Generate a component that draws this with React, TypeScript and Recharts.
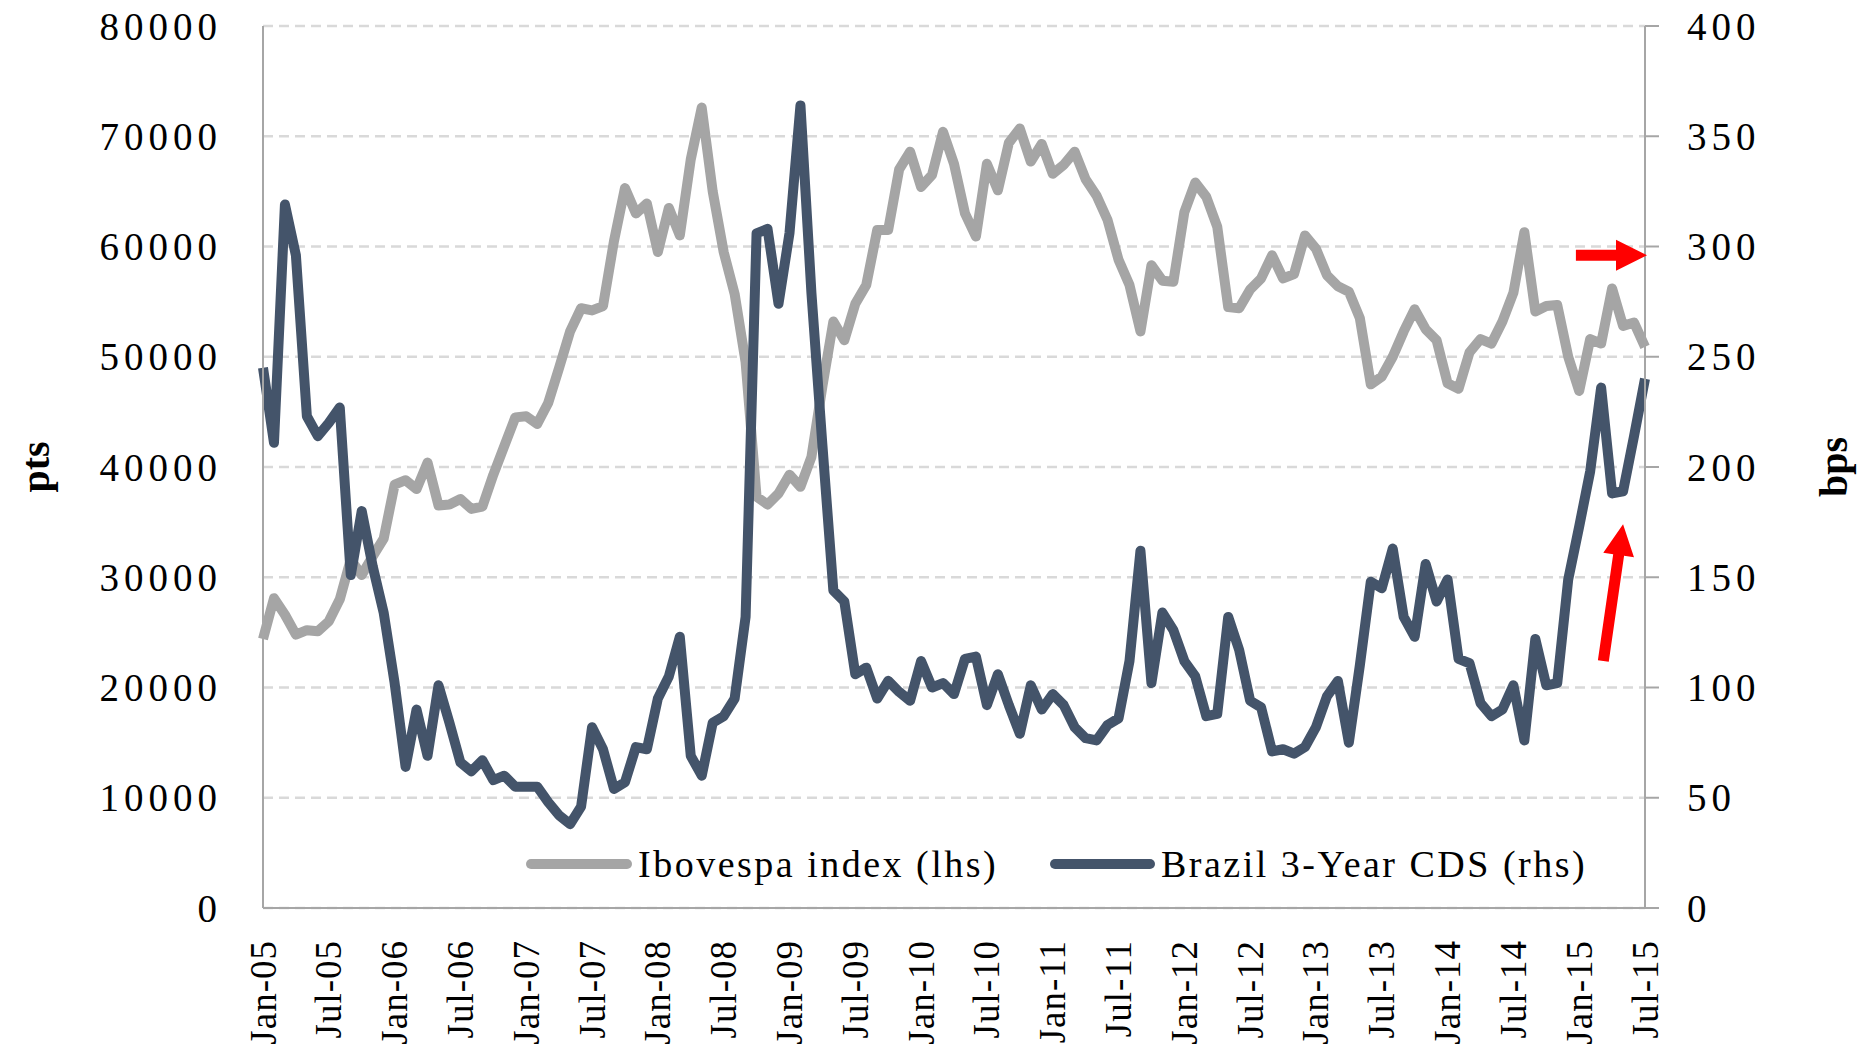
import React from "react"
import { CartesianGrid, Line, LineChart, XAxis, YAxis } from "recharts"

const FONT = '"Liberation Serif", "Times New Roman", serif'
const AXIS = "#a6a6a6"
const GREY = "#a5a5a5"
const SLATE = "#44546a"

// month labels Jan-05 .. Jul-15
const monthNames = ["Jan", "Feb", "Mar", "Apr", "May", "Jun", "Jul", "Aug", "Sep", "Oct", "Nov", "Dec"]
const months: string[] = []
for (let y = 5; y <= 15; y++) {
  for (let m = 0; m < 12; m++) {
    if (y === 15 && m > 6) break
    months.push(`${monthNames[m]}-${String(y).padStart(2, "0")}`)
  }
}

// Ibovespa index, pts (lhs)
const ibovespa = [
  24400, 28100, 26600, 24800, 25200, 25100, 26000, 28000, 31600, 30200, 31900, 33500,
  38400, 38800, 38000, 40400, 36500, 36600, 37100, 36200, 36400, 39300, 41900, 44500,
  44600, 43900, 45800, 49000, 52300, 54400, 54200, 54600, 60500, 65300, 63000, 63900,
  59500, 63500, 61000, 67900, 72600, 65000, 59500, 55700, 49500, 37300, 36600, 37600,
  39300, 38200, 40900, 47300, 53200, 51500, 54800, 56500, 61500, 61500, 67000, 68600,
  65400, 66500, 70400, 67500, 63000, 60900, 67500, 65100, 69400, 70700, 67700, 69300,
  66600, 67400, 68600, 66100, 64600, 62400, 58800, 56500, 52300, 58300, 56900, 56800,
  63100, 65800, 64500, 61800, 54500, 54400, 56100, 57100, 59200, 57100, 57500, 61000,
  59800, 57400, 56400, 55900, 53500, 47500, 48200, 50000, 52300, 54300, 52500, 51500,
  47600, 47100, 50400, 51600, 51200, 53200, 55800, 61300, 54100, 54600, 54700, 50000,
  46900, 51600, 51200, 56200, 52800, 53100, 50900,
]

// Brazil 3-Year CDS, bps (rhs)
const cds = [
  245, 211, 319, 296, 223, 214, 220, 227, 151, 180, 155, 134,
  102, 64, 90, 69, 101, 84, 66, 62, 67, 58, 60, 55,
  55, 55, 48, 42, 38, 46, 82, 72, 54, 57, 73, 72,
  95, 105, 123, 69, 60, 84, 87, 95, 132, 306, 308, 274,
  306, 364, 279, 210, 144, 139, 106, 109, 95, 103, 98, 94,
  112, 100, 102, 97, 113, 114, 92, 106, 92, 79, 101, 90,
  97, 92, 82, 77, 76, 83, 86, 112, 162, 102, 134, 126,
  112, 105, 87, 88, 132, 117, 94, 91, 71, 72, 70, 73,
  82, 96, 103, 75, 110, 148, 145, 163, 132, 123, 156, 139,
  149, 113, 111, 93, 87, 90, 101, 76, 122, 101, 102, 149,
  173, 198, 236, 188, 189, 214, 240,
]

const leftTicks = [0, 10000, 20000, 30000, 40000, 50000, 60000, 70000, 80000]
const rightTicks = [0, 50, 100, 150, 200, 250, 300, 350, 400]

const data = months.map((month, i) => ({ month, ibovespa: ibovespa[i], cds: cds[i] }))

const W = 1864
const H = 1058
const PLOT = { left: 263, right: 1645, top: 26, bottom: 908 }

const xAt = (i: number) => PLOT.left + (i * (PLOT.right - PLOT.left)) / (months.length - 1)
const yRight = (v: number) => PLOT.bottom - (v / 400) * (PLOT.bottom - PLOT.top)

const LeftTick = ({ x, y, payload }: any) => (
  <text x={x} y={y} textAnchor="end" dominantBaseline="central" fill="#000" fontSize={39} fontFamily={FONT} letterSpacing={5}>
    {payload.value}
  </text>
)

const RightTick = ({ x, y, payload }: any) => (
  <text x={x} y={y} textAnchor="start" dominantBaseline="central" fill="#000" fontSize={39} fontFamily={FONT} letterSpacing={5}>
    {payload.value}
  </text>
)

const MonthTick = ({ x, y, payload }: any) => (
  <text
    x={x}
    y={y}
    transform={`rotate(-90, ${x}, ${y})`}
    textAnchor="end"
    dominantBaseline="central"
    fill="#000"
    fontSize={37}
    fontFamily={FONT}
    letterSpacing={1}
  >
    {payload.value}
  </text>
)

const axisTitle = (value: string, dx: number) => (props: any) => {
  const vb = props.viewBox
  const cx = vb.x + dx
  const cy = vb.y + vb.height / 2
  return (
    <text
      x={cx}
      y={cy}
      transform={`rotate(-90, ${cx}, ${cy})`}
      textAnchor="middle"
      dominantBaseline="central"
      fill="#000"
      fontSize={40}
      fontWeight="bold"
      fontFamily={FONT}
    >
      {value}
    </text>
  )
}

// arrow polygon from tail to tip
const arrowPoints = (tx: number, ty: number, hx: number, hy: number, body = 5.5, headW = 15.5, headL = 31) => {
  const len = Math.hypot(hx - tx, hy - ty)
  const ux = (hx - tx) / len
  const uy = (hy - ty) / len
  const nx = -uy
  const ny = ux
  const bx = hx - ux * headL
  const by = hy - uy * headL
  const pts = [
    [tx + nx * body, ty + ny * body],
    [bx + nx * body, by + ny * body],
    [bx + nx * headW, by + ny * headW],
    [hx, hy],
    [bx - nx * headW, by - ny * headW],
    [bx - nx * body, by - ny * body],
    [tx - nx * body, ty - ny * body],
  ]
  return pts.map((p) => p.join(",")).join(" ")
}

export default function App() {
  const legendY = 864
  return (
    <div style={{ position: "absolute", left: 0, top: 0, width: W, height: H, background: "#fff" }}>
      <LineChart width={W} height={H} data={data} margin={{ top: PLOT.top, right: 0, bottom: 0, left: 0 }}>
        <CartesianGrid vertical={false} stroke="#d9d9d9" strokeWidth={2.5} strokeDasharray="10 6" />
        <XAxis
          dataKey="month"
          interval={5}
          height={H - PLOT.bottom}
          tickLine={false}
          tickSize={0}
          tickMargin={32}
          axisLine={{ stroke: AXIS, strokeWidth: 2 }}
          tick={<MonthTick />}
        />
        <YAxis
          width={PLOT.left}
          domain={[0, 80000]}
          ticks={leftTicks}
          interval={0}
          tickLine={false}
          tickSize={0}
          tickMargin={41}
          axisLine={{ stroke: AXIS, strokeWidth: 2 }}
          tick={<LeftTick />}
          label={{ content: axisTitle("pts", 35) }}
        />
        <YAxis
          yAxisId="right"
          orientation="right"
          width={W - PLOT.right}
          domain={[0, 400]}
          ticks={rightTicks}
          interval={0}
          tickSize={14}
          tickMargin={28}
          tickLine={{ stroke: AXIS, strokeWidth: 2 }}
          axisLine={{ stroke: AXIS, strokeWidth: 2 }}
          tick={<RightTick />}
          label={{ content: axisTitle("bps", 188) }}
        />
        <Line
          dataKey="ibovespa"
          type="linear"
          stroke={GREY}
          strokeWidth={10}
          strokeLinejoin="round"
          dot={false}
          activeDot={false}
          isAnimationActive={false}
        />
        <Line
          dataKey="cds"
          yAxisId="right"
          type="linear"
          stroke={SLATE}
          strokeWidth={10}
          strokeLinejoin="round"
          dot={false}
          activeDot={false}
          isAnimationActive={false}
        />
      </LineChart>
      <svg width={W} height={H} style={{ position: "absolute", left: 0, top: 0, pointerEvents: "none" }}>
        <line x1={531} x2={627} y1={legendY} y2={legendY} stroke={GREY} strokeWidth={10} strokeLinecap="round" />
        <text x={638} y={legendY} dominantBaseline="central" fontSize={38} fontFamily={FONT} letterSpacing={2.5} fill="#000">
          Ibovespa index (lhs)
        </text>
        <line x1={1055} x2={1150} y1={legendY} y2={legendY} stroke={SLATE} strokeWidth={10} strokeLinecap="round" />
        <text x={1161} y={legendY} dominantBaseline="central" fontSize={38} fontFamily={FONT} letterSpacing={2.5} fill="#000">
          Brazil 3-Year CDS (rhs)
        </text>
        <polygon points={arrowPoints(xAt(119.7), yRight(296), PLOT.right + 2, yRight(296))} fill="#ff0000" />
        <polygon points={arrowPoints(xAt(122.2), yRight(112), xAt(124.0), yRight(174))} fill="#ff0000" />
      </svg>
    </div>
  )
}
